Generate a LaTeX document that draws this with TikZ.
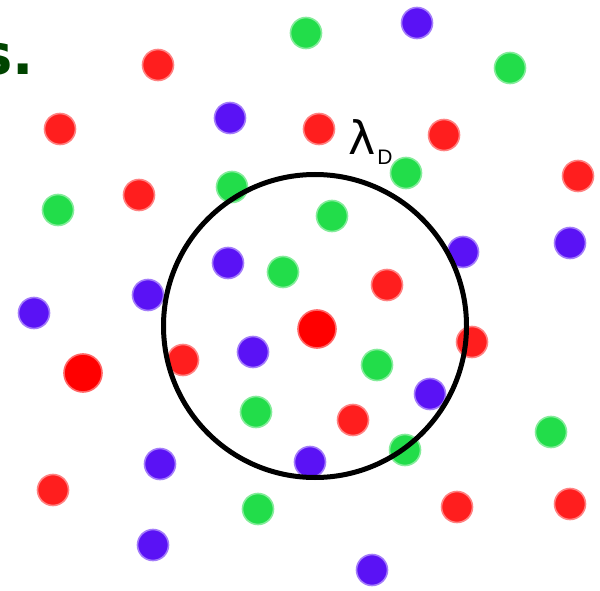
\documentclass[tikz,border=0pt]{standalone}
\usepackage{fontspec}
\newfontfamily\labelfont{DejaVu Sans}
\newfontfamily\subfont{Liberation Sans}
\newfontfamily\titlefont{DejaVu Sans}
\definecolor{dotred}{HTML}{FF1E1E}
\definecolor{dotgreen}{HTML}{22DD4A}
\definecolor{dotblue}{HTML}{5A12F5}
\definecolor{titlegreen}{HTML}{004400}
\begin{document}
\begin{tikzpicture}[x=1pt,y=-1pt,
  dotbase/.style={circle, inner sep=0pt, outer sep=0pt, minimum size=31pt, line width=1.6pt},
  rdot/.style={dotbase, fill=dotred, draw=dotred!55},
  gdot/.style={dotbase, fill=dotgreen, draw=dotgreen!55},
  bdot/.style={dotbase, fill=dotblue, draw=dotblue!55},
  bigdot/.style={dotbase, fill=red!100, draw=red!60, minimum size=38pt},
  debye/.style={circle, draw=black, line width=5pt, inner sep=0pt, minimum size=303pt}]
\useasboundingbox (0,0) rectangle (600,591);
\fill[white] (0,0) rectangle (600,591);
% red dots
\foreach \x/\y [count=\i] in {158/65, 60/129, 319/129, 444/135, 578/176, 139/195, 387/285, 472/342, 183/360, 353/420, 53/490, 457/507, 570/504}
  \node[rdot] (r\i) at (\x,\y) {};
% green dots
\foreach \x/\y [count=\i] in {306/33, 510/68, 406/173, 58/210, 232/187, 332/216, 283/272, 377/365, 256/412, 551/432, 405/450, 258/509}
  \node[gdot] (g\i) at (\x,\y) {};
% blue dots
\foreach \x/\y [count=\i] in {417/23, 230/118, 570/243, 463/252, 228/263, 34/313, 148/295, 253/352, 430/394, 310/462, 160/464, 153/545, 372/570}
  \node[bdot] (b\i) at (\x,\y) {};
% big red ions
\node[bigdot] (ion) at (317,329) {};
\node[bigdot] (ion2) at (83,373) {};
% Debye sphere
\node[debye] (sphere) at (315,326) {};
% labels
\node[anchor=base west, inner sep=0pt, font=\labelfont\fontsize{46}{46}\selectfont] (lam) at (348,155) {λ\hspace{2pt}\raisebox{-0.2em}{\subfont\fontsize{21}{21}\selectfont D}};
\node[anchor=base east, inner sep=0pt, text=titlegreen, font=\titlefont\bfseries\fontsize{56}{56}\selectfont] (title) at (34,75) {s.};
\end{tikzpicture}
\end{document}
